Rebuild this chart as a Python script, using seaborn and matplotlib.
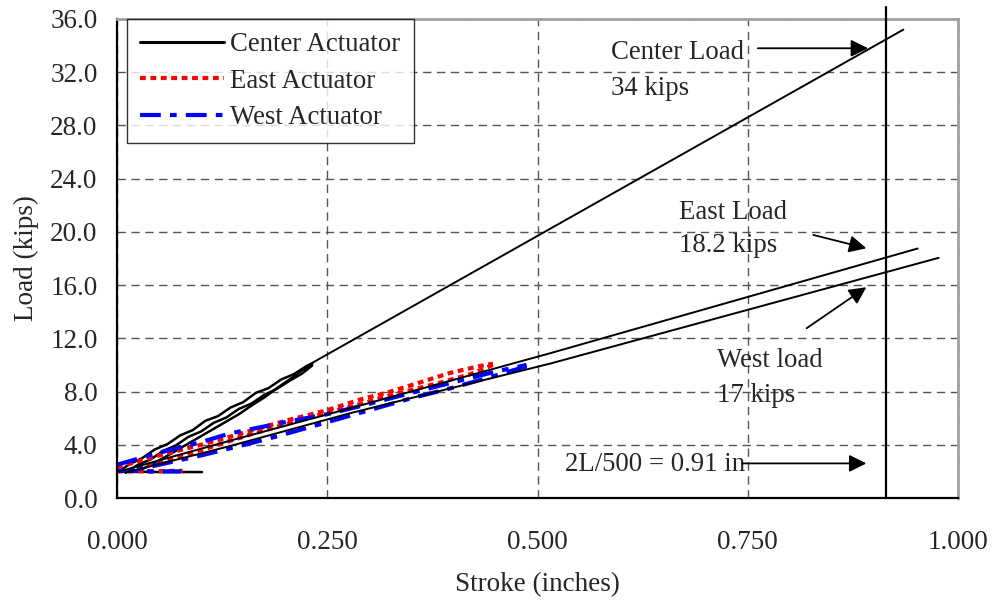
import matplotlib
matplotlib.use("Agg")
import matplotlib.pyplot as plt
import matplotlib.ticker as mticker
from matplotlib.lines import Line2D
import seaborn as sns

# ---------------- data ----------------
# Center actuator (black) - loading/unloading loops
center_up1_x = [0.000, 0.015, 0.030, 0.045, 0.060, 0.075, 0.090, 0.105, 0.120, 0.135, 0.150, 0.165, 0.180, 0.195, 0.210, 0.225, 0.232]
center_up1_y = [1.90, 2.55, 3.00, 3.65, 4.05, 4.70, 5.10, 5.80, 6.15, 6.80, 7.20, 7.90, 8.25, 8.90, 9.30, 9.90, 10.10]
center_up2_x = [0.010, 0.025, 0.040, 0.055, 0.070, 0.085, 0.100, 0.115, 0.130, 0.145, 0.160, 0.175, 0.190, 0.205, 0.220, 0.232]
center_up2_y = [1.90, 2.50, 2.90, 3.55, 3.95, 4.60, 5.00, 5.65, 6.05, 6.70, 7.10, 7.75, 8.20, 8.80, 9.35, 9.95]
center_dn_x = [0.015, 0.025, 0.040, 0.055, 0.070, 0.085, 0.100, 0.115, 0.130, 0.145, 0.160, 0.175, 0.190, 0.205, 0.220, 0.232]
center_dn_y = [2.05, 2.00, 2.50, 3.00, 3.55, 4.10, 4.65, 5.20, 5.75, 6.30, 6.95, 7.55, 8.25, 8.90, 9.60, 10.05]
center_flat_x = [0.000, 0.050, 0.101]
center_flat_y = [2.00, 1.95, 1.95]
center_ext_x = [0.225, 0.935]
center_ext_y = [9.90, 35.20]

# Extension lines toward the east / west peak loads (black)
east_ext_x = [0.000, 0.134, 0.277, 0.515, 0.952]
east_ext_y = [1.95, 4.30, 6.74, 10.88, 18.75]
west_ext_x = [0.010, 0.134, 0.277, 0.515, 0.977]
west_ext_y = [1.90, 3.90, 6.37, 10.10, 18.05]

# East actuator (red dotted)
east_up_x = [0.000, 0.050, 0.100, 0.134, 0.200, 0.250, 0.289, 0.320, 0.356, 0.396, 0.430, 0.447]
east_up_y = [2.30, 3.20, 4.00, 4.60, 5.80, 6.60, 7.40, 7.90, 8.60, 9.40, 9.90, 10.10]
east_dn_x = [0.447, 0.420, 0.380, 0.330, 0.280, 0.220, 0.160, 0.100, 0.050, 0.020]
east_dn_y = [10.00, 9.30, 8.60, 7.80, 6.90, 5.90, 4.80, 3.60, 2.70, 2.20]
east_flat_x = [0.000, 0.040, 0.078]
east_flat_y = [2.00, 2.00, 2.05]

# West actuator (blue dash-dot)
west_up_x = [0.000, 0.050, 0.100, 0.134, 0.200, 0.250, 0.289, 0.350, 0.400, 0.450, 0.487]
west_up_y = [2.50, 3.40, 4.20, 4.85, 5.70, 6.30, 6.90, 7.90, 8.70, 9.50, 10.00]
west_dn_x = [0.487, 0.450, 0.400, 0.350, 0.300, 0.250, 0.194, 0.158, 0.100, 0.050, 0.020]
west_dn_y = [9.90, 9.20, 8.30, 7.50, 6.60, 5.70, 4.70, 4.10, 3.20, 2.50, 2.10]
west_flat_x = [0.000, 0.040, 0.076]
west_flat_y = [2.05, 2.00, 2.00]

x_ticks = [0.0, 0.25, 0.5, 0.75, 1.0]
y_ticks = [0, 4, 8, 12, 16, 20, 24, 28, 32, 36]
legend_labels = ["Center Actuator", "East Actuator", "West Actuator"]
limit_x = 0.914

# ---------------- style ----------------
sns.set_theme(style="white")
plt.rcParams["font.family"] = ["Liberation Serif", "DejaVu Serif"]

fig = plt.figure(figsize=(9.93, 6.03), dpi=100)
ax = fig.add_axes([117/993, 1 - 498/603, (958-117)/993, (498-19)/603])

red_dash = (0, (1.4, 1.1))
blue_dd = (0, (5, 2.2, 1.6, 2.2))

def line(x, y, color, lw, ls="-"):
    sns.lineplot(x=x, y=y, ax=ax, color=color, lw=lw, linestyle=ls,
                 sort=False, estimator=None, legend=False)

# center loops
for xs, ys in [(center_up1_x, center_up1_y), (center_up2_x, center_up2_y),
               (center_dn_x, center_dn_y), (center_flat_x, center_flat_y)]:
    line(xs, ys, "black", 1.8)
line(center_ext_x, center_ext_y, "black", 1.4)

# east
for xs, ys in [(east_up_x, east_up_y), (east_dn_x, east_dn_y), (east_flat_x, east_flat_y)]:
    line(xs, ys, "#ff0000", 3.0, red_dash)
# west
for xs, ys in [(west_up_x, west_up_y), (west_dn_x, west_dn_y), (west_flat_x, west_flat_y)]:
    line(xs, ys, "#0000ff", 3.0, blue_dd)

# extension black lines
line(east_ext_x, east_ext_y, "black", 1.4)
line(west_ext_x, west_ext_y, "black", 1.4)

# limit line
ax.plot([limit_x, limit_x], [0, 36.9], color="black", lw=1.6, clip_on=False, zorder=5)

# axes
ax.set_xlim(0, 1.0)
ax.set_ylim(0, 36)
ax.set_xticks(x_ticks)
ax.set_yticks(y_ticks)
ax.xaxis.set_major_formatter(mticker.FormatStrFormatter("%.3f"))
ax.yaxis.set_major_formatter(mticker.FormatStrFormatter("%.1f"))
ax.xaxis.set_minor_locator(mticker.MultipleLocator(0.05))
ax.yaxis.set_minor_locator(mticker.MultipleLocator(1.0))
ax.tick_params(which="major", direction="inout", length=12, width=1.2, labelsize=19.5, color="black")
ax.tick_params(which="minor", direction="inout", length=8, width=1.0, color="black")
ax.tick_params(axis="y", which="major", pad=8)
ax.tick_params(axis="x", which="major", pad=17)
ax.grid(True, which="major", color="#555555", linestyle=(0, (6, 4)), lw=1.0)
for s in ["left", "bottom"]:
    ax.spines[s].set_color("black")
    ax.spines[s].set_linewidth(1.6)
for s in ["top", "right"]:
    ax.spines[s].set_color("#a0a0a0")
    ax.spines[s].set_linewidth(2.0)
ax.set_xlabel("Stroke (inches)", fontsize=19.5, labelpad=12)
ax.set_ylabel("Load (kips)", fontsize=19.5, labelpad=8)

# annotations
fs = 19.3
ax.text(0.587, 33.45, "Center Load", fontsize=fs, va="center", ha="left")
ax.text(0.587, 30.8, "34 kips", fontsize=fs, va="center", ha="left")
ax.text(0.668, 21.45, "East Load", fontsize=fs, va="center", ha="left")
ax.text(0.668, 19.0, "18.2 kips", fontsize=fs, va="center", ha="left")
ax.text(0.713, 10.3, "West load", fontsize=fs, va="center", ha="left")
ax.text(0.713, 7.7, "17 kips", fontsize=fs, va="center", ha="left")
ax.text(0.533, 2.55, "2L/500 = 0.91 in", fontsize=fs, va="center", ha="left")

ap = dict(arrowstyle="-|>", color="black", lw=1.3, mutation_scale=26, shrinkA=0, shrinkB=0)
ax.annotate("", xy=(0.893, 33.8), xytext=(0.762, 33.8), arrowprops=ap)
ax.annotate("", xy=(0.891, 18.77), xytext=(0.828, 19.77), arrowprops=ap)
ax.annotate("", xy=(0.891, 15.84), xytext=(0.820, 12.76), arrowprops=ap)
ax.annotate("", xy=(0.891, 2.6), xytext=(0.743, 2.6), arrowprops=ap)

handles = [Line2D([], [], color="black", lw=2.2),
           Line2D([], [], color="#ff0000", lw=3.0, linestyle=red_dash),
           Line2D([], [], color="#0000ff", lw=3.0, linestyle=blue_dd)]
leg = ax.legend(handles, legend_labels, loc="upper left", bbox_to_anchor=(0.012, 1.0),
                fontsize=19.3, frameon=True, fancybox=False, edgecolor="black",
                handlelength=3.1, handletextpad=0.25, labelspacing=0.42,
                borderpad=0.5, borderaxespad=0.0)
leg.get_frame().set_linewidth(1.0)

fig.savefig("out.png", dpi=100)
